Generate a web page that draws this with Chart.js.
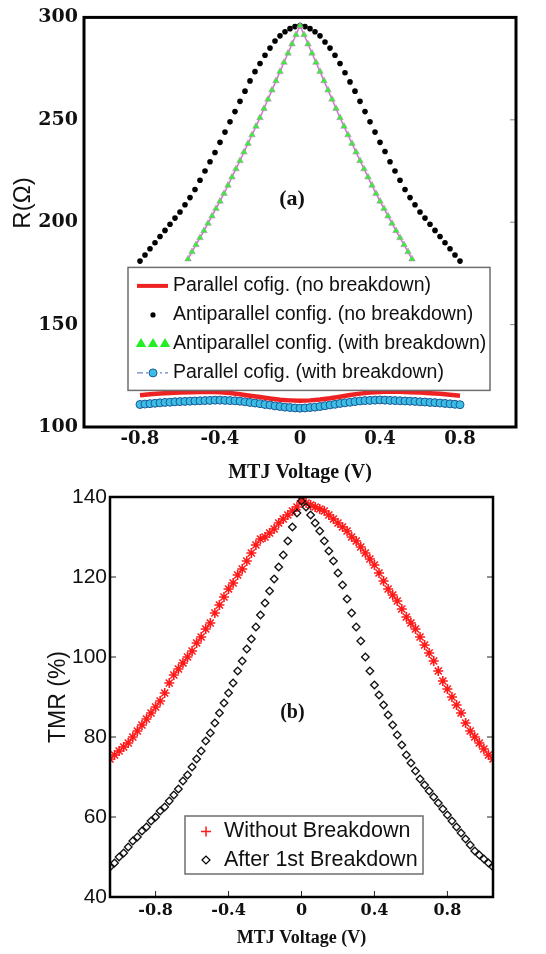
<!DOCTYPE html>
<html>
<head>
<meta charset="utf-8">
<script src="https://cdn.jsdelivr.net/npm/chart.js@4.4.1/dist/chart.umd.min.js"></script>
<style>
  body { margin: 0; background: #fff; }
  #wrap { position: relative; width: 546px; height: 954px; }
  canvas { position: absolute; left: 0; }
  #chartA { top: 0; }
  #chartB { top: 478px; }
</style>
</head>
<body>
<div id="wrap">
  <canvas id="chartA" width="546" height="492"></canvas>
  <canvas id="chartB" width="546" height="476"></canvas>
</div>
<script>
// ---------- panel (a): resistance vs MTJ voltage ----------
const voltsAP = [-0.8, -0.775, -0.75, -0.725, -0.7, -0.675, -0.65, -0.625, -0.6, -0.575, -0.55, -0.525, -0.5, -0.475, -0.45, -0.425, -0.4, -0.375, -0.35, -0.325, -0.3, -0.275, -0.25, -0.225, -0.2, -0.175, -0.15, -0.125, -0.1, -0.075, -0.05, -0.025, 0,
  0.025, 0.05, 0.075, 0.1, 0.125, 0.15, 0.175, 0.2, 0.225, 0.25, 0.275, 0.3, 0.325, 0.35, 0.375, 0.4, 0.425, 0.45, 0.475, 0.5, 0.525, 0.55, 0.575, 0.6, 0.625, 0.65, 0.675, 0.7, 0.725, 0.75, 0.775, 0.8];
// antiparallel, no breakdown (black dots)
const rAntiNoBd = [181, 184, 187, 190, 193, 196, 199, 202, 205, 208.5, 212, 216, 220.5, 225, 229.5, 234, 239, 244, 249, 254, 259, 264, 269, 273.5, 277.5, 281.5, 285, 288.5, 291, 293, 294.5, 295.5, 296,
  295.5, 294.5, 293, 291, 288, 285, 281.5, 277.5, 273, 268.5, 264, 259, 254, 249, 244, 239, 234.5, 229.5, 225, 220.5, 216, 212, 208.5, 205, 202, 199, 196, 193, 190, 187, 184, 181];
// parallel, with breakdown (cyan circles)
const rParBd = [111, 111.2, 111.4, 111.6, 111.8, 112, 112.1, 112.3, 112.4, 112.5, 112.6, 112.7, 112.8, 112.9, 113, 113.1, 113.1, 113, 112.9, 112.8, 112.6, 112.3, 112, 111.7, 111.4, 111, 110.7, 110.3, 110, 109.7, 109.5, 109.3, 109.2,
  109.3, 109.5, 109.7, 110, 110.4, 110.8, 111.1, 111.5, 111.8, 112.1, 112.4, 112.7, 112.9, 113, 113.1, 113.2, 113.1, 113, 112.9, 112.8, 112.7, 112.6, 112.5, 112.3, 112.2, 112, 111.9, 111.7, 111.5, 111.3, 111.1, 110.9];

const voltsP = [-0.8, -0.75, -0.7, -0.65, -0.6, -0.55, -0.5, -0.45, -0.4, -0.35, -0.3, -0.25, -0.2, -0.15, -0.1, -0.05, 0,
  0.05, 0.1, 0.15, 0.2, 0.25, 0.3, 0.35, 0.4, 0.45, 0.5, 0.55, 0.6, 0.65, 0.7, 0.75, 0.8];
// parallel, no breakdown (red line)
const rParNoBd = [115.5, 116, 116.3, 116.6, 116.8, 117, 117.1, 117.2, 117, 116.6, 116, 115.3, 114.6, 113.9, 113.3, 113, 112.8,
  113, 113.4, 114, 114.8, 115.6, 116.3, 116.8, 117.1, 117.3, 117.2, 117, 116.8, 116.5, 116.2, 115.8, 115.3];

const voltsAPBd = [-0.56, -0.54, -0.52, -0.5, -0.48, -0.46, -0.44, -0.42, -0.4, -0.38, -0.36, -0.34, -0.32, -0.3, -0.28, -0.26, -0.24, -0.22, -0.2, -0.18, -0.16, -0.14, -0.12, -0.1, -0.08, -0.06, -0.04, -0.02, 0,
  0.02, 0.04, 0.06, 0.08, 0.1, 0.12, 0.14, 0.16, 0.18, 0.2, 0.22, 0.24, 0.26, 0.28, 0.3, 0.32, 0.34, 0.36, 0.38, 0.4, 0.42, 0.44, 0.46, 0.48, 0.5, 0.52, 0.54, 0.56];
// antiparallel, with breakdown (green triangles)
const rAntiBd = [182, 185.5, 189, 192.4, 195.8, 199.4, 203, 206.6, 210.2, 214, 218, 222, 226, 230, 234.2, 238.4, 242.6, 246.8, 251, 255.5, 260, 264.5, 269, 273.5, 278, 282.5, 287, 291.5, 296,
  291.5, 287, 282.5, 278, 273.5, 269, 264.5, 260, 255.5, 251, 246.8, 242.6, 238.4, 234.2, 230, 226, 222, 218, 214, 210.2, 206.6, 203, 199.4, 195.8, 192.4, 189, 185.5, 182];

const legendA = ["Parallel cofig. (no breakdown)", "Antiparallel config. (no breakdown)", "Antiparallel config. (with breakdown)", "Parallel cofig. (with breakdown)"];
const xTicksA = [-0.8, -0.4, 0, 0.4, 0.8];
const yTicksA = [100, 150, 200, 250, 300];

// ---------- panel (b): TMR vs MTJ voltage ----------
const voltsTMR = [-1.05, -1.025, -1, -0.975, -0.95, -0.925, -0.9, -0.875, -0.85, -0.825, -0.8, -0.775, -0.75, -0.725, -0.7, -0.675, -0.65, -0.625, -0.6, -0.575, -0.55, -0.525, -0.5, -0.475, -0.45, -0.425, -0.4, -0.375, -0.35, -0.325, -0.3, -0.275, -0.25, -0.225, -0.2, -0.175, -0.15, -0.125, -0.1, -0.075, -0.05, -0.025, 0,
  0.025, 0.05, 0.075, 0.1, 0.125, 0.15, 0.175, 0.2, 0.225, 0.25, 0.275, 0.3, 0.325, 0.35, 0.375, 0.4, 0.425, 0.45, 0.475, 0.5, 0.525, 0.55, 0.575, 0.6, 0.625, 0.65, 0.675, 0.7, 0.725, 0.75, 0.775, 0.8, 0.825, 0.85, 0.875, 0.9, 0.925, 0.95, 0.975, 1, 1.025, 1.05];
const tmrNoBd = [74.5, 75.5, 76.5, 77.5, 78.5, 80, 81.5, 83, 84.5, 86, 87.5, 89, 91, 93.5, 95.5, 97, 98.5, 100, 101.5, 103.5, 105, 107, 108.5, 111, 113, 115, 117, 118.5, 120.5, 122, 124, 126, 128, 129.5, 130, 131, 132, 133.5, 134.5, 135.5, 136.5, 137.5, 139,
  138.5, 138, 137.5, 137, 136.5, 135.5, 134.5, 133.5, 132.5, 131.5, 130, 129, 127.5, 126, 124.5, 123, 121, 119, 117, 115.5, 114, 112, 110, 108.5, 107, 105, 103, 101, 99, 96.5, 94, 92, 90, 88, 86, 83.5, 81.5, 80, 78.5, 77, 75.5, 74.5];
const tmrBd = [47.5, 48.5, 50, 51, 52.5, 54, 55, 56.5, 57.5, 59, 60, 61.5, 62.5, 64, 65.5, 67, 69, 70.5, 72.5, 74.5, 76.5, 79, 81, 83.5, 86, 88.5, 91, 93.5, 96.5, 99, 102, 104.5, 107.5, 110.5, 113.5, 116.5, 119.5, 122.5, 125.5, 129, 132.5, 136, 139,
  137.5, 135.5, 133.5, 131.5, 129, 126.5, 124, 121, 118, 114.5, 111, 107.5, 104, 100, 96.5, 93, 90.5, 88, 85.5, 83, 80.5, 78, 75.5, 73.5, 71.5, 69.5, 68, 66.5, 65, 63.5, 62, 60.5, 59, 57.5, 56, 54.5, 53, 51.5, 50.5, 49.5, 48.5, 47.5];

const legendB = ["Without Breakdown", "After 1st Breakdown"];
const xTicksB = [-0.8, -0.4, 0, 0.4, 0.8];
const yTicksB = [40, 60, 80, 100, 120, 140];

// ---------- helpers ----------
const pts = (xs, ys) => xs.map((x, i) => ({ x: x, y: ys[i] }));
const serifB = (size) => ({ family: "'DejaVu Serif', serif", size: size, weight: 'bold', lineHeight: 1.2 });
const timesB = (size) => ({ family: "'Liberation Serif', serif", size: size, weight: 'bold', lineHeight: 1.2 });
const sans = (size) => ({ family: "'Liberation Sans', Arial, sans-serif", size: size, lineHeight: 1.2 });

// frame, inner ticks, panel tag and boxed legend drawn on top of the data
const panelDecor = {
  id: 'panelDecor',
  afterDatasetsDraw(chart, args, o) {
    const ctx = chart.ctx;
    const a = chart.chartArea;
    const xs = chart.scales.x, ys = chart.scales.y;
    ctx.save();
    // inner tick marks
    ctx.strokeStyle = o.tickColor;
    ctx.lineWidth = 1;
    ctx.beginPath();
    o.yTicks.forEach(v => {
      const y = ys.getPixelForValue(v);
      if (o.leftTicks) { ctx.moveTo(a.left, y); ctx.lineTo(a.left + 6, y); }
      ctx.moveTo(a.right, y); ctx.lineTo(a.right - 6, y);
    });
    if (o.bottomTicks) {
      o.xTicks.forEach(v => {
        const x = xs.getPixelForValue(v);
        ctx.moveTo(x, a.bottom); ctx.lineTo(x, a.bottom - 6);
      });
    }
    ctx.stroke();
    // legend box
    const L = o.legend;
    const bx = a.left + L.left, by = a.top + L.top;
    ctx.fillStyle = '#fff';
    ctx.fillRect(bx, by, L.width, L.height);
    ctx.strokeStyle = '#6e6e6e';
    ctx.lineWidth = 1.5;
    ctx.strokeRect(bx, by, L.width, L.height);
    ctx.font = L.font;
    ctx.textAlign = 'left';
    ctx.textBaseline = 'middle';
    L.items.forEach((label, i) => {
      const cy = by + L.first + i * L.step;
      L.symbol(ctx, i, bx + L.symX, cy);
      ctx.fillStyle = '#111';
      ctx.fillText(label, bx + L.textX, cy);
    });
    // panel tag
    ctx.fillStyle = '#111';
    ctx.font = o.tagFont;
    ctx.textAlign = 'center';
    ctx.fillText(o.tag, xs.getPixelForValue(o.tagAt[0]), ys.getPixelForValue(o.tagAt[1]));
    // frame
    ctx.strokeStyle = '#000';
    ctx.lineWidth = o.frameWidth;
    ctx.strokeRect(a.left, a.top, a.right - a.left, a.bottom - a.top);
    // rotated y title (when placed by hand)
    if (o.yTitle) {
      ctx.translate(o.yTitle.x, o.yTitle.y);
      ctx.rotate(-Math.PI / 2);
      ctx.font = o.yTitle.font;
      ctx.fillStyle = '#111';
      ctx.fillText(o.yTitle.text, 0, 0);
    }
    ctx.restore();
  }
};

function symbolA(ctx, i, x, y) {
  ctx.save();
  if (i === 0) {
    ctx.strokeStyle = '#ee2222'; ctx.lineWidth = 4;
    ctx.beginPath(); ctx.moveTo(x - 16, y); ctx.lineTo(x + 15, y); ctx.stroke();
  } else if (i === 1) {
    ctx.fillStyle = '#000';
    ctx.beginPath(); ctx.arc(x, y, 2.6, 0, Math.PI * 2); ctx.fill();
  } else if (i === 2) {
    ctx.fillStyle = '#22ee22'; ctx.strokeStyle = '#22ee22';
    [-12, 0, 12].forEach(dx => Chart.helpers.drawPoint(ctx, { pointStyle: 'triangle', radius: 6, borderWidth: 0 }, x + dx, y));
  } else {
    ctx.strokeStyle = '#4a66b0'; ctx.lineWidth = 1;
    ctx.setLineDash([6, 3, 2, 3]);
    ctx.beginPath(); ctx.moveTo(x - 16, y); ctx.lineTo(x + 15, y); ctx.stroke();
    ctx.setLineDash([]);
    ctx.fillStyle = '#3bbde6'; ctx.strokeStyle = '#1e5a96';
    ctx.beginPath(); ctx.arc(x, y, 4, 0, Math.PI * 2); ctx.fill(); ctx.stroke();
  }
  ctx.restore();
}

function symbolB(ctx, i, x, y) {
  ctx.save();
  if (i === 0) {
    ctx.strokeStyle = '#ff1a1a'; ctx.lineWidth = 1.5;
    Chart.helpers.drawPoint(ctx, { pointStyle: 'cross', radius: 5, borderWidth: 1.5 }, x, y);
  } else {
    ctx.strokeStyle = '#000'; ctx.fillStyle = 'rgba(0,0,0,0)'; ctx.lineWidth = 1.2;
    Chart.helpers.drawPoint(ctx, { pointStyle: 'rectRot', radius: 4, borderWidth: 1.2 }, x, y);
  }
  ctx.restore();
}

// ---------- chart (a) ----------
new Chart(document.getElementById('chartA'), {
  type: 'scatter',
  data: {
    datasets: [
      { label: legendA[0], data: pts(voltsP, rParNoBd), showLine: true, borderColor: '#ee2222', borderWidth: 4.5, pointRadius: 0, order: 2 },
      { label: legendA[1], data: pts(voltsAP, rAntiNoBd), showLine: false, pointRadius: 2.8, pointBackgroundColor: '#000', pointBorderWidth: 0, order: 1 },
      { label: legendA[2], data: pts(voltsAPBd, rAntiBd), showLine: true, borderColor: '#cc77cc', borderWidth: 1.5,
        pointStyle: 'triangle', pointRadius: 3.8, pointBackgroundColor: '#33f033', pointBorderColor: '#c98ac9', pointBorderWidth: 0.6, order: 0 },
      { label: legendA[3], data: pts(voltsAP, rParBd), showLine: true, borderColor: '#4a66b0', borderWidth: 1, borderDash: [6, 3, 2, 3],
        pointRadius: 4, pointBackgroundColor: '#3bbde6', pointBorderColor: '#1e5a96', pointBorderWidth: 1, order: 3 }
    ]
  },
  options: {
    responsive: false,
    animation: false,
    events: [],
    layout: { padding: { top: 13, right: 30, left: 0, bottom: 0 } },
    scales: {
      x: {
        type: 'linear', min: -1.08, max: 1.08,
        afterBuildTicks: s => { s.ticks = xTicksA.map(v => ({ value: v })); },
        afterFit: s => { s.height = 65; },
        grid: { display: false, drawTicks: false },
        border: { display: false },
        ticks: { padding: 2, color: '#111', font: serifB(18), maxRotation: 0, autoSkip: false, callback: v => String(v) },
        title: { display: true, text: 'MTJ Voltage (V)', color: '#111', font: timesB(20), padding: { top: 0, bottom: 7 } }
      },
      y: {
        type: 'linear', min: 100, max: 300,
        afterBuildTicks: s => { s.ticks = yTicksA.map(v => ({ value: v })); },
        afterFit: s => { s.width = 84; },
        grid: { display: false, drawTicks: false },
        border: { display: false },
        ticks: { padding: 6, color: '#111', font: serifB(19), callback: v => String(v) }
      }
    },
    plugins: {
      legend: { display: false },
      tooltip: { enabled: false },
      panelDecor: {
        tickColor: '#888', leftTicks: false, bottomTicks: false,
        xTicks: xTicksA, yTicks: yTicksA, frameWidth: 3,
        tag: '(a)', tagAt: [-0.04, 211], tagFont: "bold 22px 'Liberation Serif', serif",
        yTitle: { text: 'R(\u03A9)', x: 23, y: 203, font: "24px 'Liberation Sans', Arial, sans-serif" },
        legend: { left: 44, top: 250, width: 362, height: 123, first: 18.5, step: 29, symX: 25, textX: 45,
          font: "19.5px 'Liberation Sans', Arial, sans-serif", items: legendA, symbol: symbolA }
      }
    }
  },
  plugins: [panelDecor]
});

// ---------- chart (b) ----------
new Chart(document.getElementById('chartB'), {
  type: 'scatter',
  data: {
    datasets: [
      { label: legendB[0], data: pts(voltsTMR, tmrNoBd), pointStyle: 'star', pointRadius: 5, pointBorderColor: '#ff1a1a', pointBorderWidth: 1.6, order: 1 },
      { label: legendB[1], data: pts(voltsTMR, tmrBd), pointStyle: 'rectRot', pointRadius: 3.8, pointBackgroundColor: 'rgba(0,0,0,0)', pointBorderColor: '#111', pointBorderWidth: 1.3, order: 0 }
    ]
  },
  options: {
    responsive: false,
    animation: false,
    events: [],
    layout: { padding: { top: 19, right: 53, left: 0, bottom: 0 } },
    scales: {
      x: {
        type: 'linear', min: -1.05, max: 1.05,
        afterBuildTicks: s => { s.ticks = xTicksB.map(v => ({ value: v })); },
        afterFit: s => { s.height = 57; },
        grid: { display: false, drawTicks: false },
        border: { display: false },
        ticks: { padding: 4, color: '#111', font: serifB(16), maxRotation: 0, autoSkip: false, callback: v => String(v) },
        title: { display: true, text: 'MTJ Voltage (V)', color: '#111', font: timesB(18), padding: { top: 0, bottom: 5 } }
      },
      y: {
        type: 'linear', min: 40, max: 140,
        afterBuildTicks: s => { s.ticks = yTicksB.map(v => ({ value: v })); },
        afterFit: s => { s.width = 110; },
        grid: { display: false, drawTicks: false },
        border: { display: false },
        ticks: { padding: 3, color: '#111', font: sans(21), callback: v => String(v) },
        title: { display: true, text: 'TMR (%)', color: '#111', font: sans(23), padding: { top: 45, bottom: 0 } }
      }
    },
    plugins: {
      legend: { display: false },
      tooltip: { enabled: false },
      panelDecor: {
        tickColor: '#222', leftTicks: true, bottomTicks: true,
        xTicks: xTicksB, yTicks: yTicksB, frameWidth: 2.5,
        tag: '(b)', tagAt: [-0.05, 86], tagFont: "bold 20px 'Liberation Serif', serif",
        legend: { left: 75, top: 319, width: 238, height: 58, first: 15.5, step: 28.5, symX: 21, textX: 39,
          font: "21.5px 'Liberation Sans', Arial, sans-serif", items: legendB, symbol: symbolB }
      }
    }
  },
  plugins: [panelDecor]
});
</script>
</body>
</html>
